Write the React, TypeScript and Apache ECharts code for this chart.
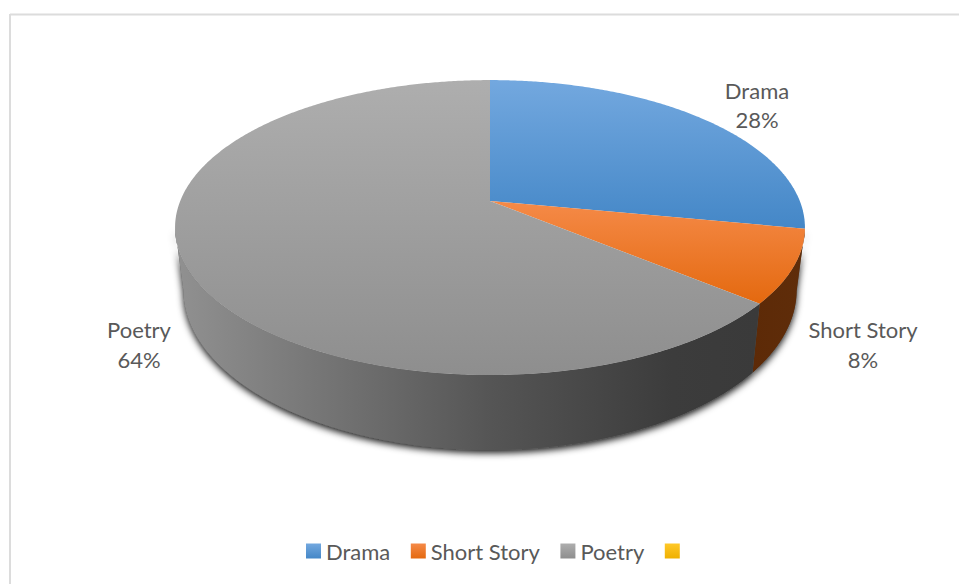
import React, { useEffect, useRef } from "react";
import * as echarts from "echarts";

const categories = ["Drama", "Short Story", "Poetry", " "];
const shares = [28, 8, 64, 0];
const labelVisible = [true, true, true, false];

const topStops = [
  ["#73a8df", "#4487c7"],
  ["#f58a48", "#e4690f"],
  ["#aeaeae", "#8e8e8e"],
  ["#ffc828", "#efb000"],
];
const sideStops: [number, string][][] = [
  [[0, "#254f78"], [1, "#254f78"]],
  [[0, "#5d2a07"], [1, "#5f2d0a"]],
  [[0, "#919191"], [0.3, "#707070"], [0.54, "#555555"], [0.85, "#3c3c3c"], [1, "#3a3a3a"]],
  [[0, "#7f6000"], [1, "#7f6000"]],
];

// Perspective projection of the disc: top face and bottom face.
const K = 0.18;
const TOP = { cx: 490, cy: 201, a: 309.8, b: 142.7 };
const BOTTOM = { cx: 490, cy: 261, a: 301.7, b: 155 };
const SILHOUETTE_L = 100.4;
const SILHOUETTE_R = 259.6;
const labelAt = [
  { x: 757, y: 90, y2: 119 },
  { x: 863, y: 329, y2: 359 },
  { x: 139, y: 329, y2: 359 },
  { x: 0, y: 0, y2: 0 },
];

function project(face: typeof TOP, deg: number): number[] {
  const t = (deg * Math.PI) / 180;
  const u = Math.sin(t);
  const v = -Math.cos(t);
  const w = 1 / (1 - K * v);
  return [face.cx + face.a * u * w, face.cy + face.b * v * w];
}

function arcPoints(face: typeof TOP, from: number, to: number): number[][] {
  const n = Math.max(2, Math.ceil(Math.abs(to - from) * 2));
  const pts: number[][] = [];
  for (let i = 0; i <= n; i++) pts.push(project(face, from + ((to - from) * i) / n));
  return pts;
}

function vertical(stops: string[]) {
  return {
    type: "linear", x: 0, y: 0, x2: 0, y2: 1,
    colorStops: [{ offset: 0, color: stops[0] }, { offset: 1, color: stops[1] }],
  };
}

function horizontal(stops: [number, string][]) {
  return {
    type: "linear", x: 0, y: 0, x2: 1, y2: 0,
    colorStops: stops.map(([offset, color]) => ({ offset, color })),
  };
}

const FONT = "Lato, 'Open Sans', sans-serif";

function makeRender(index: number) {
  return (_params: any, api: any) => {
    const value = api.value(0);
    if (!value) return { type: "group", children: [] };
    const before = shares.slice(0, index).reduce((s, x) => s + x, 0);
    const start = (before / 100) * 360;
    const end = ((before + value) / 100) * 360;
    const children: any[] = [];
    const sFrom = Math.max(start, SILHOUETTE_L);
    const sTo = Math.min(end, SILHOUETTE_R);
    if (sTo > sFrom && index > 0) {
      const side = [
        ...arcPoints(TOP, sFrom, sTo),
        ...arcPoints(BOTTOM, sTo, sFrom),
      ];
      children.push({
        type: "polygon",
        z2: 0,
        shape: { points: side },
        style: { fill: "#555", shadowColor: "rgba(0,0,0,0.9)", shadowBlur: 7, shadowOffsetY: 3 },
      });
      children.push({
        type: "polygon",
        z2: 2,
        shape: { points: side },
        style: { fill: horizontal(sideStops[index]) },
      });
    }
    children.push({
      type: "polygon",
      z2: 5,
      shape: { points: [[TOP.cx, TOP.cy], ...arcPoints(TOP, start, end)] },
      style: { fill: vertical(topStops[index]) },
    });
    if (labelVisible[index]) {
      const p = labelAt[index];
      const common = { fill: "#595959", font: `22px ${FONT}`, align: "center", verticalAlign: "middle" };
      children.push({ type: "text", z2: 8, x: p.x, y: p.y, style: { ...common, text: categories[index] } });
      children.push({ type: "text", z2: 8, x: p.x, y: p.y2, style: { ...common, text: `${value}%` } });
    }
    return { type: "group", children };
  };
}

export default function App() {
  const ref = useRef<HTMLDivElement>(null);
  useEffect(() => {
    const chart = echarts.init(ref.current!, undefined, { renderer: "svg" });
    chart.setOption({
      animation: false,
      backgroundColor: "#ffffff",
      legend: {
        left: 301,
        top: 535,
        icon: "rect",
        itemWidth: 15,
        itemHeight: 15,
        itemGap: 20.5,
        textStyle: { color: "#595959", fontSize: 22, fontFamily: FONT, padding: [0, 0, 0, 0] },
        data: categories.map((name, i) => ({ name, itemStyle: { color: vertical(topStops[i]) } })),
      },
      graphic: [
        { type: "line", shape: { x1: 10, y1: 14.5, x2: 959, y2: 14.5 }, style: { stroke: "#dcdcdc", lineWidth: 2 } },
        { type: "line", shape: { x1: 10, y1: 14, x2: 10, y2: 584 }, style: { stroke: "#dcdcdc", lineWidth: 2 } },
      ],
      series: categories.map((name, i) => ({
        type: "custom",
        name,
        coordinateSystem: "none",
        clip: false,
        silent: true,
        itemStyle: { color: topStops[i][1] },
        data: [[shares[i]]],
        encode: { value: 0 },
        renderItem: makeRender(i),
      })),
    });
    return () => chart.dispose();
  }, []);
  return <div ref={ref} style={{ position: "fixed", left: 0, top: 0, width: 959, height: 584 }} />;
}
